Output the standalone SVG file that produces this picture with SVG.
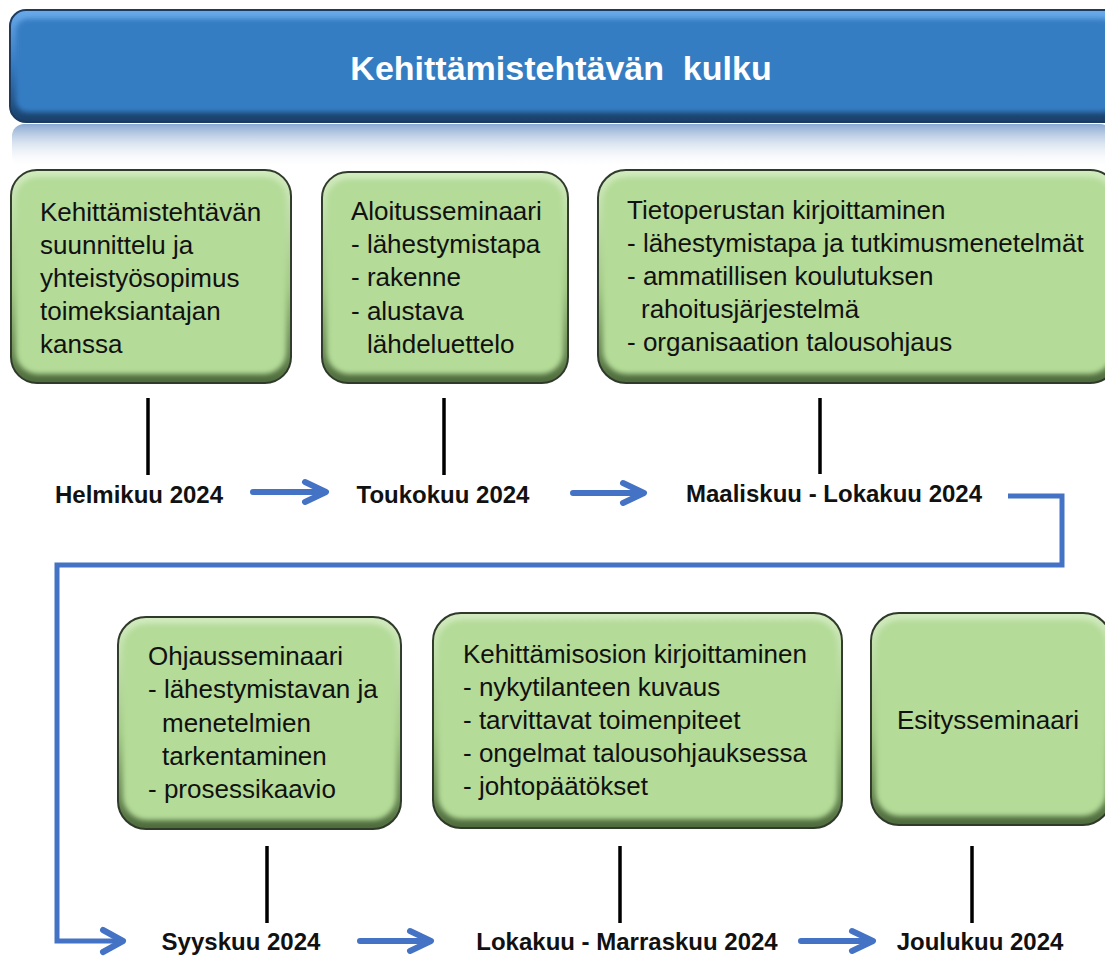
<svg xmlns="http://www.w3.org/2000/svg" width="1105" height="956" viewBox="0 0 1105 956">
<defs>
<style>
.rim{fill:url(#rimG);stroke:#2f3a2b;stroke-width:2}
.face{fill:#b4db98;filter:url(#soft)}
.bt{font-family:"Liberation Sans",Arial,sans-serif;font-size:26px;fill:#111}
.dt{font-family:"Liberation Sans",Arial,sans-serif;font-size:24px;font-weight:bold;fill:#111}
.tick{stroke:#000;stroke-width:3.5}
.arr{fill:none;stroke:#4472c4;stroke-width:6;stroke-linecap:round;stroke-linejoin:round}
.loop{fill:none;stroke:#4472c4;stroke-width:5;stroke-linejoin:miter}
</style>
<linearGradient id="rimG" x1="0" y1="0" x2="0" y2="1">
<stop offset="0" stop-color="#d2ebbf"/>
<stop offset="0.55" stop-color="#a3c886"/>
<stop offset="1" stop-color="#4d6a3c"/>
</linearGradient>
<linearGradient id="hdrG" x1="0" y1="0" x2="0" y2="1">
<stop offset="0" stop-color="#6aaaea"/>
<stop offset="0.5" stop-color="#3479c0"/>
<stop offset="1" stop-color="#193f68"/>
</linearGradient>
<linearGradient id="refG" x1="0" y1="0" x2="0" y2="1">
<stop offset="0" stop-color="#7c9fcc" stop-opacity="0.9"/>
<stop offset="1" stop-color="#ffffff" stop-opacity="0"/>
</linearGradient>
<filter id="soft" x="-5%" y="-5%" width="110%" height="110%">
<feGaussianBlur stdDeviation="2.5"/>
</filter>
</defs>
<rect width="1105" height="956" fill="#ffffff"/>

<g id="header">
<rect x="12" y="124" width="1100" height="44" rx="12" fill="url(#refG)"/>
<rect x="10" y="10" width="1110" height="112" rx="16" fill="url(#hdrG)" stroke="#1d3b5f" stroke-width="2"/>
<rect x="16" y="19" width="1098" height="93" rx="12" fill="#367dc3" filter="url(#soft)"/>
<text x="561" y="80" text-anchor="middle" xml:space="preserve" font-family="'Liberation Sans',Arial,sans-serif" font-size="34" font-weight="bold" fill="#ffffff">Kehittämistehtävän  kulku</text>
</g>

<g id="node-suunnittelu">
<rect class="rim" x="11" y="170" width="280" height="213" rx="26"/>
<rect class="face" x="16" y="177" width="270" height="197" rx="22"/>
<text class="bt" x="40" y="221">Kehittämistehtävän</text>
<text class="bt" x="40" y="254">suunnittelu ja</text>
<text class="bt" x="40" y="287">yhteistyösopimus</text>
<text class="bt" x="40" y="320">toimeksiantajan</text>
<text class="bt" x="40" y="353">kanssa</text>
</g>

<g id="node-aloitus">
<rect class="rim" x="322" y="172" width="246" height="211" rx="26"/>
<rect class="face" x="327" y="179" width="236" height="195" rx="22"/>
<text class="bt" x="351" y="220">Aloitusseminaari</text>
<text class="bt" x="351" y="253">- lähestymistapa</text>
<text class="bt" x="351" y="286">- rakenne</text>
<text class="bt" x="351" y="320">- alustava</text>
<text class="bt" x="367" y="353">lähdeluettelo</text>
</g>

<g id="node-tietoperusta">
<rect class="rim" x="598" y="170" width="520" height="213" rx="28"/>
<rect class="face" x="603" y="177" width="510" height="197" rx="24"/>
<text class="bt" x="627" y="219">Tietoperustan kirjoittaminen</text>
<text class="bt" x="627" y="252">- lähestymistapa ja tutkimusmenetelmät</text>
<text class="bt" x="627" y="285">- ammatillisen koulutuksen</text>
<text class="bt" x="641" y="318">rahoitusjärjestelmä</text>
<text class="bt" x="627" y="351">- organisaation talousohjaus</text>
</g>

<g id="node-ohjaus">
<rect class="rim" x="118" y="617" width="283" height="212" rx="28"/>
<rect class="face" x="123" y="624" width="273" height="196" rx="24"/>
<text class="bt" x="148" y="665">Ohjausseminaari</text>
<text class="bt" x="148" y="698">- lähestymistavan ja</text>
<text class="bt" x="162" y="732">menetelmien</text>
<text class="bt" x="162" y="765">tarkentaminen</text>
<text class="bt" x="148" y="798">- prosessikaavio</text>
</g>

<g id="node-kehittamisosio">
<rect class="rim" x="433" y="613" width="409" height="215" rx="28"/>
<rect class="face" x="438" y="620" width="399" height="199" rx="24"/>
<text class="bt" x="463" y="663">Kehittämisosion kirjoittaminen</text>
<text class="bt" x="463" y="696">- nykytilanteen kuvaus</text>
<text class="bt" x="463" y="729">- tarvittavat toimenpiteet</text>
<text class="bt" x="463" y="762">- ongelmat talousohjauksessa</text>
<text class="bt" x="463" y="795">- johtopäätökset</text>
</g>

<g id="node-esitys">
<rect class="rim" x="871" y="613" width="240" height="212" rx="28"/>
<rect class="face" x="876" y="620" width="230" height="196" rx="24"/>
<text class="bt" x="988" y="729" text-anchor="middle">Esitysseminaari</text>
</g>

<g id="dates">
<text class="dt" x="139" y="503" text-anchor="middle">Helmikuu 2024</text>
<text class="dt" x="443" y="503" text-anchor="middle">Toukokuu 2024</text>
<text class="dt" x="834" y="502" text-anchor="middle">Maaliskuu - Lokakuu 2024</text>
<text class="dt" x="241" y="950" text-anchor="middle">Syyskuu 2024</text>
<text class="dt" x="627" y="950" text-anchor="middle">Lokakuu - Marraskuu 2024</text>
<text class="dt" x="980" y="950" text-anchor="middle">Joulukuu 2024</text>
</g>

<g id="connectors">
<line class="tick" x1="148" y1="398" x2="148" y2="475"/>
<line class="tick" x1="444" y1="398" x2="444" y2="475"/>
<line class="tick" x1="820" y1="398" x2="820" y2="474"/>
<line class="tick" x1="267" y1="846" x2="267" y2="923"/>
<line class="tick" x1="620" y1="846" x2="620" y2="923"/>
<line class="tick" x1="972" y1="846" x2="972" y2="923"/>
<path class="arr" d="M253 492 H325 M305 482 L326 492 L305 502"/>
<path class="arr" d="M573 493 H643 M623 483 L644 493 L623 503"/>
<path class="loop" d="M1008 496 H1062 V565 H57 V941 H121"/>
<path class="arr" d="M103 930 L123 941 L103 952"/>
<path class="arr" d="M360 941 H429 M410 931 L431 941 L410 951"/>
<path class="arr" d="M801 941 H871 M852 931 L873 941 L852 951"/>
</g>
</svg>
